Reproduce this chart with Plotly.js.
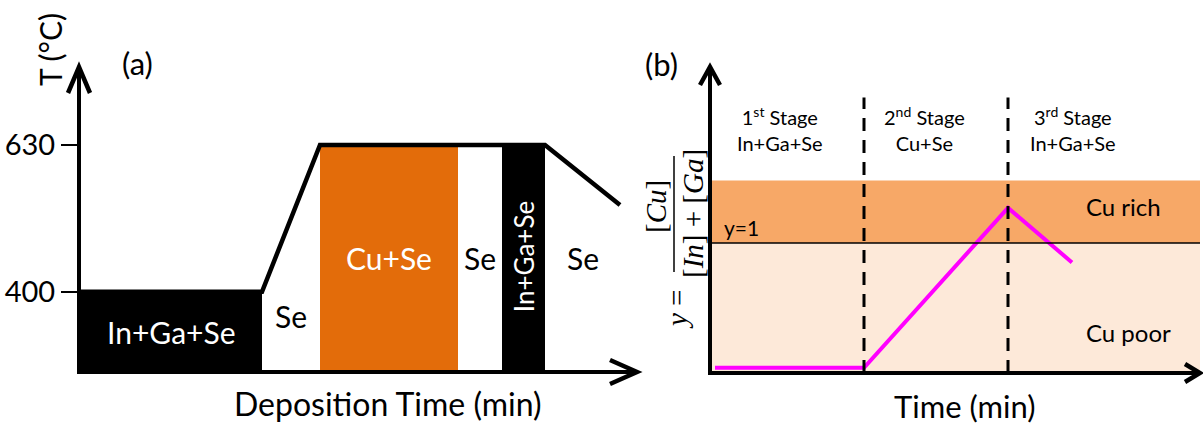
<!DOCTYPE html>
<html><head><meta charset="utf-8">
<script src="https://cdn.plot.ly/plotly-3.0.1.min.js"></script>
<style>html,body{margin:0;padding:0;background:#fff;}#chart{width:1203px;height:426px;}</style>
</head><body><div id="chart"></div>
<script>
// ---------- Panel (a): temperature profile ----------
const tempTicks = [400, 630];
const tempX = [0, 18.3, 24.1, 46.6, 54.1];
const tempY = [400, 400, 630, 630, 536];
const layerStart = [0, 18.3, 24.1, 37.9, 42.3, 46.6];
const layerEnd   = [18.3, 24.1, 37.9, 42.3, 46.6, 54.1];
const layerTop   = [400, 630, 630, 630, 630, 630];
const layerLabels = ["In+Ga+Se", "Se", "Cu+Se", "Se", "In+Ga+Se", "Se"];
const layerLabelY = [337, 362, 453, 453, 455, 453];
const layerColors = ["#000000", "rgba(0,0,0,0)", "#E36C0A", "rgba(0,0,0,0)", "#000000", "rgba(0,0,0,0)"];
const layerTextColors = ["#ffffff", "#000000", "#ffffff", "#000000", "#ffffff", "#000000"];
const layerTextAngle = [0, 0, 0, 0, -90, 0];
const tempBase = 275;

// ---------- Panel (b): Cu ratio ----------
const ratioX = [0.5, 15.4, 29.8, 36.2];
const ratioY = [0.04, 0.04, 1.27, 0.85];
const stageBounds = [15.4, 29.8];
const stageCenters = [7.0, 21.4, 36.3];
const stageLabels = ["1<sup>st</sup> Stage<br>In+Ga+Se", "2<sup>nd</sup> Stage<br>Cu+Se", "3<sup>rd</sup> Stage<br>In+Ga+Se"];
const bandLow = [0, 1];
const bandHigh = [1, 1.48];
const bandColors = ["#FDE9D9", "#F7A867"];
const bandLabels = ["Cu poor", "Cu rich"];
const bandLabelX = [41.8, 41.3];
const bandLabelY = [0.31, 1.28];
const ratioEnd = 49.0;
const dashTop = 2.12;

const W = 1203, H = 426;
const px = x => x / W, py = y => 1 - y / H;
const FONT = "Lato, 'Open Sans', sans-serif";
const SERIF = "'Liberation Serif', 'DejaVu Serif', serif";

const traces = [];
traces.push({
  type: "bar", xaxis: "x", yaxis: "y",
  x: layerStart.map((s, i) => (s + layerEnd[i]) / 2),
  width: layerStart.map((s, i) => layerEnd[i] - s),
  y: layerTop.map(t => t - tempBase), base: tempBase,
  marker: {color: layerColors, line: {width: 0}},
  hoverinfo: "skip", showlegend: false
});
traces.push({type: "scatter", mode: "lines", xaxis: "x", yaxis: "y",
  x: tempX, y: tempY, line: {color: "#000", width: 4.5}, hoverinfo: "skip", showlegend: false});
traces.push({type: "scatter", mode: "lines", xaxis: "x2", yaxis: "y2",
  x: ratioX, y: ratioY, line: {color: "#FF00FF", width: 4}, hoverinfo: "skip", showlegend: false});

const shapes = [];
bandLow.forEach((lo, i) => shapes.push({type: "rect", xref: "x2", yref: "y2", x0: 0, x1: ratioEnd, y0: lo, y1: bandHigh[i],
  fillcolor: bandColors[i], line: {width: 0}, layer: "below"}));
shapes.push({type: "line", xref: "x2", yref: "y2", x0: 0, x1: ratioEnd, y0: 1, y1: 1, line: {color: "#000", width: 1.5}});
stageBounds.forEach(b => shapes.push({type: "line", xref: "x2", yref: "y2", x0: b, x1: b, y0: 0, y1: dashTop,
  line: {color: "#000", width: 3, dash: "13px,9px"}}));

function chevronUp(x, y, len, hw, w) {
  return {type: "path", xref: "paper", yref: "paper", line: {color: "#000", width: w},
    path: `M ${px(x - hw)} ${py(y + len)} L ${px(x)} ${py(y)} L ${px(x + hw)} ${py(y + len)}`};
}
function chevronRight(x, y, len, hw, w) {
  return {type: "path", xref: "paper", yref: "paper", line: {color: "#000", width: w},
    path: `M ${px(x - len)} ${py(y - hw)} L ${px(x)} ${py(y)} L ${px(x - len)} ${py(y + hw)}`};
}
shapes.push(chevronUp(79, 67, 26, 11, 4.5));
shapes.push(chevronRight(637, 372, 27, 12, 4.5));
shapes.push(chevronUp(710, 67, 18, 10, 4.5));
shapes.push(chevronRight(1200, 373, 15, 9, 4.5));
shapes.push({type: "line", xref: "paper", yref: "paper", x0: px(674), x1: px(674), y0: py(156), y1: py(272), line: {color: "#000", width: 1.5}});

const annotations = [];
layerLabels.forEach((t, i) => annotations.push({xref: "x", yref: "y",
  x: (layerStart[i] + layerEnd[i]) / 2, y: layerLabelY[i], text: t, showarrow: false,
  textangle: layerTextAngle[i], font: {family: FONT, size: layerTextAngle[i] ? 26 : 30, color: layerTextColors[i]}}));
stageLabels.forEach((t, i) => annotations.push({xref: "x2", yref: "y2", x: stageCenters[i], y: 1.88, text: t,
  showarrow: false, align: "center", font: {family: FONT, size: 20, color: "#000"}}));
bandLabels.forEach((t, i) => annotations.push({xref: "x2", yref: "y2", x: bandLabelX[i], y: bandLabelY[i], text: t,
  showarrow: false, font: {family: FONT, size: 24, color: "#000"}}));
annotations.push({xref: "x2", yref: "y2", x: 3.1, y: 1.12, text: "y=1", showarrow: false, font: {family: FONT, size: 21, color: "#000"}});
const paperText = (x, y, text, size, angle, family) => ({xref: "paper", yref: "paper", x: px(x), y: py(y), text,
  showarrow: false, textangle: angle || 0, xanchor: "center", yanchor: "middle", borderpad: 0,
  font: {family: family || FONT, size, color: "#000"}});
annotations.push(paperText(388, 403, "Deposition Time (min)", 32));
annotations.push(paperText(964, 406, "Time (min)", 31));
annotations.push(paperText(50, 50, "T (°C)", 30, -90));
annotations.push(paperText(137, 63, "(a)", 31));
annotations.push(paperText(661, 64, "(b)", 31));
annotations.push(paperText(677, 310, "<i>y</i> =", 29, -90, SERIF));
annotations.push(paperText(656, 207, "[<i>Cu</i>]", 29, -90, SERIF));
annotations.push(paperText(693, 214, "[<i>In</i>] + [<i>Ga</i>]", 29, -90, SERIF));

const layout = {
  width: W, height: H, margin: {l: 0, r: 0, t: 0, b: 0},
  paper_bgcolor: "#fff", plot_bgcolor: "rgba(0,0,0,0)", showlegend: false,
  bargap: 0,
  xaxis: {domain: [px(81), px(637)], range: [0.2, 55.8], showline: true, linewidth: 4, linecolor: "#000",
    showgrid: false, zeroline: false, showticklabels: false, ticks: "", anchor: "y", fixedrange: true},
  yaxis: {domain: [py(370), py(67)], range: [277.5, 752], showline: true, linewidth: 4, linecolor: "#000",
    showgrid: false, zeroline: false, tickvals: tempTicks, ticktext: tempTicks.map(String), ticks: "outside",
    ticklen: 16, tickwidth: 2.5, tickcolor: "#000", tickfont: {family: FONT, size: 29, color: "#000"}, anchor: "x", fixedrange: true},
  xaxis2: {domain: [px(712), px(1200)], range: [0.2, 49.0], showline: true, linewidth: 4, linecolor: "#000",
    showgrid: false, zeroline: false, showticklabels: false, ticks: "", anchor: "y2", fixedrange: true},
  yaxis2: {domain: [py(371), py(67)], range: [0.015, 2.354], showline: true, linewidth: 4, linecolor: "#000",
    showgrid: false, zeroline: false, showticklabels: false, ticks: "", anchor: "x2", fixedrange: true},
  shapes, annotations
};
Plotly.newPlot("chart", traces, layout, {staticPlot: true, displayModeBar: false});
</script></body></html>
